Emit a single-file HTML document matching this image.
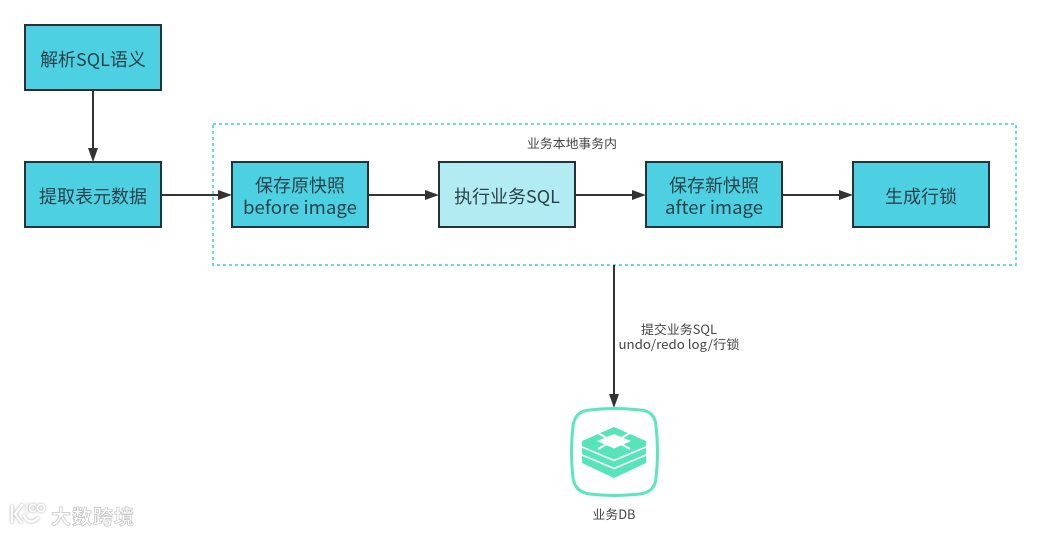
<!DOCTYPE html>
<html><head><meta charset="utf-8"><style>
html,body{margin:0;padding:0;background:#fff;width:1041px;height:536px;overflow:hidden}
svg{display:block}
text{font-family:"Noto Sans CJK SC","Liberation Sans",sans-serif;text-anchor:middle}
.b{fill:#4dd0e1;stroke:#263238;stroke-width:2}
.t{font-size:18px;fill:#2a434a}
.s{font-size:12.5px;fill:#444}
.l{stroke:#333;stroke-width:2;fill:none}
.a{fill:#333}
.g{fill:none;stroke:#fff;stroke-width:2.4;stroke-linecap:round;filter:drop-shadow(0 0 1.2px #999)}
</style></head><body>
<svg width="1041" height="536" viewBox="0 0 1041 536" xmlns="http://www.w3.org/2000/svg">
<rect x="213" y="124" width="803" height="141" fill="none" stroke="#6cd8e6" stroke-width="2" stroke-dasharray="3 3"/>
<path class="l" d="M93 90V152M161 195H222M368 195H429M575 195H636M782 195H843M614 265V398"/>
<path class="a" d="M93 162L88 148L98 148ZM232 195L218 190V200ZM439 195L425 190V200ZM646 195L632 190V200ZM853 195L839 190V200ZM614 408L609 394H619Z"/>
<rect class="b" x="25" y="25" width="136" height="65"/>
<rect class="b" x="25" y="162" width="136" height="65"/>
<rect class="b" x="232" y="162" width="136" height="65"/>
<rect class="b" x="439" y="162" width="136" height="65" style="fill:#b2ebf2"/>
<rect class="b" x="646" y="162" width="136" height="65"/>
<rect class="b" x="853" y="162" width="136" height="65"/>
<text class="t" x="93" y="66">解析SQL语义</text>
<text class="t" x="93" y="203">提取表元数据</text>
<text class="t" x="300" y="192">保存原快照</text>
<text class="t" x="300" y="214" textLength="114" lengthAdjust="spacingAndGlyphs">before image</text>
<text class="t" x="507" y="203">执行业务SQL</text>
<text class="t" x="714" y="192">保存新快照</text>
<text class="t" x="714" y="214" textLength="98" lengthAdjust="spacingAndGlyphs">after image</text>
<text class="t" x="921" y="203">生成行锁</text>
<text class="s" x="572" y="148" textLength="90" lengthAdjust="spacingAndGlyphs">业务本地事务内</text>
<text class="s" x="679" y="334" textLength="76" lengthAdjust="spacingAndGlyphs">提交业务SQL</text>
<text class="s" x="679" y="349" textLength="121" lengthAdjust="spacingAndGlyphs">undo/redo log/行锁</text>
<text class="s" x="614" y="519" textLength="43" lengthAdjust="spacingAndGlyphs">业务DB</text>
<path d="M590 410Q614 407 640 410Q655 411 656 426Q659 452 656 478Q655 492 640 494Q614 497 590 494Q575 492 573 478Q570 452 573 426Q575 411 590 410Z" fill="#fff" stroke="#5ce6bd" stroke-width="3"/>
<path fill="#56e4b8" d="M582 441L614 427L646 441V463L614 478L582 463Z"/>
<path fill="#fff" d="M614 434L631 441L614 448.5L597 441Z"/>
<path fill="none" stroke="#fff" stroke-width="2" d="M598 433L606 437.5M630 433L622 437.5M598 449L606 444.5M630 449L622 444.5"/>
<path fill="none" stroke="#fff" stroke-width="1.6" d="M582 447L614 460.5L646 447M582 455L614 468.5L646 455"/>
<text x="93" y="524" style="font-size:20px;font-weight:700;fill:#fff;stroke:#c4c4c4;stroke-width:.7;letter-spacing:1px">大数跨境</text>
<path class="g" d="M12 506V522M22 505L15 514L21 522M24 516Q30 526 38 518"/>
<path class="g" d="M27 504V512" style="stroke-width:1.6"/>
<circle class="g" cx="33" cy="508" r="3.5" style="stroke-width:1.6"/>
<circle class="g" cx="41" cy="508" r="3.5" style="stroke-width:1.6"/>
</svg>
</body></html>
